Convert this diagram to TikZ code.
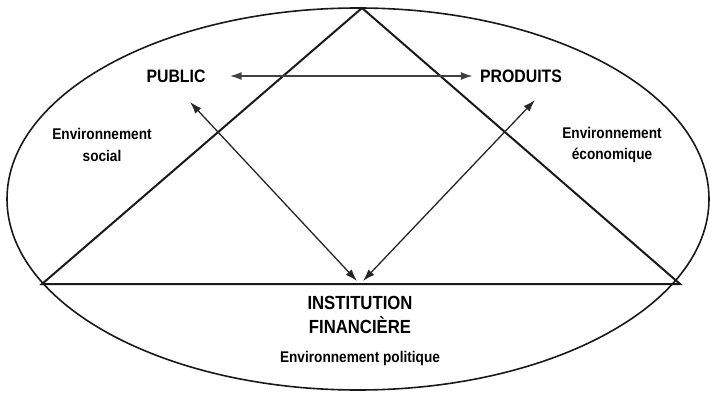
\documentclass[tikz,border=0pt]{standalone}
\usepackage{fontspec}
\setmainfont{Liberation Sans}[FakeStretch=0.88]
\usetikzlibrary{arrows.meta,positioning}

\begin{document}
\begin{tikzpicture}[x=1pt, y=-1pt,
      big/.style={font=\fontsize{18}{18}\selectfont\bfseries, inner sep=2pt},
      env/.style={font=\fontsize{15.5}{21.5}\selectfont\bfseries, align=center, inner sep=1pt},
      edge/.style={line width=2pt, black!90},
      arrow/.style={{Latex[length=12pt,width=8pt]}-{Latex[length=12pt,width=8pt]},
                    line width=1.3pt, black!85}
    ]
    \useasboundingbox (0,0) rectangle (710,393);
    % outer ellipse
    \draw[edge, line width=1.6pt] (358,199) ellipse [x radius=351pt, y radius=191pt];
    % triangle
    \coordinate (top) at (362,8);
    \coordinate (left) at (42,284);
    \coordinate (right) at (680,284);
    \draw[edge, line join=miter] (left) -- (top) -- (right) -- cycle;
    % labels
    \node[big] (public) at (176,76) {PUBLIC};
    \node[big] (produits) at (521,76) {PRODUITS};
    \node[env] (social) at (102,145) {Environnement\\social};
    \node[env] (eco) at (612,145) {Environnement\\économique};
    \node[big, font=\fontsize{19}{23.5}\selectfont\bfseries, align=center] (inst) at (360,315) {INSTITUTION\\FINANCIÈRE};
    \node[env] (pol) at (360,358) {Environnement politique};
    % arrows
    \coordinate (pubtip) at (190,102);
    \coordinate (prodtip) at (535,100);
    \coordinate (insta) at (357,281);
    \coordinate (instb) at (363,281);
    \draw[arrow, line width=1.8pt, black!75, shorten <=22pt, shorten >=5pt] (public) -- (produits);
    \draw[arrow] (pubtip) -- (insta);
    \draw[arrow] (prodtip) -- (instb);
  \end{tikzpicture}
\end{document}
